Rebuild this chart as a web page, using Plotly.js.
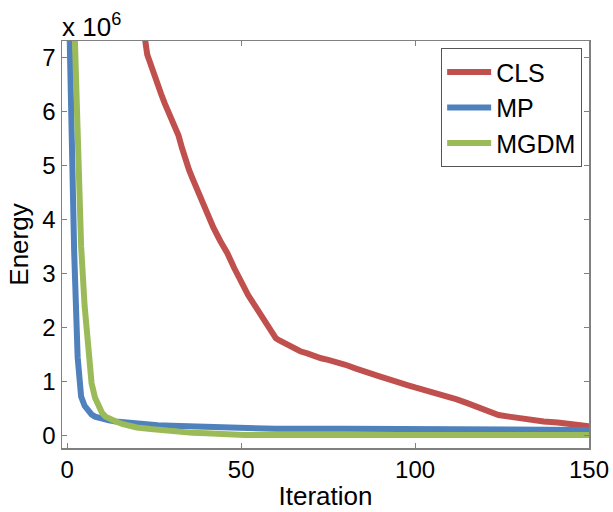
<!DOCTYPE html>
<html>
<head>
<meta charset="utf-8">
<script src="https://cdn.plot.ly/plotly-3.0.1.min.js"></script>
<style>html,body{margin:0;padding:0;background:#fff;}#chart{width:613px;height:512px;}</style>
</head>
<body>
<div id="chart"></div>
<script>
// Energy in units of 10^6
const clsIter = [0,5,10,15,20,22,23,24,25,26,27,28,29,30,31,32,33,34,35,36,37,38,39,40,42,44,46,48,50,52,54,56,58,60,61,63,65,67,69,71,73,75,78,80,83,85,88,90,93,95,98,100,103,106,109,112,115,117,120,122,124,127,130,134,137,141,145,150];
const clsEnergy = [14,12.2,10.5,9.1,7.9,7.5,7.05,6.85,6.7,6.5,6.32,6.15,6.0,5.83,5.7,5.55,5.32,5.08,4.92,4.76,4.6,4.45,4.26,4.1,3.85,3.6,3.38,3.1,2.84,2.6,2.4,2.2,2.0,1.8,1.76,1.69,1.63,1.56,1.52,1.47,1.43,1.40,1.36,1.31,1.24,1.19,1.13,1.09,1.03,0.98,0.93,0.89,0.84,0.78,0.73,0.67,0.6,0.55,0.47,0.42,0.38,0.35,0.32,0.28,0.26,0.24,0.21,0.17];

const mpIter = [0,1,2,3,4,5,6,7,8,9,10,12,14,16,18,20,23,26,30,34,40,48,49,60,80,100,115,116,130,150];
const mpEnergy = [9.5,5.8,3.4,1.45,0.72,0.55,0.45,0.39,0.35,0.33,0.31,0.28,0.26,0.245,0.23,0.22,0.205,0.19,0.18,0.17,0.165,0.155,0.13,0.125,0.125,0.12,0.115,0.105,0.105,0.105];

const mgdmIter = [0,1,2,3,4,5,6,7,8,9,10,11,12,14,16,18,20,24,28,32,36,40,45,50,51,70,100,150];
const mgdmEnergy = [12,9.8,7.8,5.4,3.5,2.4,1.6,0.97,0.7,0.52,0.42,0.35,0.31,0.26,0.21,0.18,0.15,0.12,0.09,0.065,0.05,0.045,0.035,0.03,0.012,0.01,0.01,0.01];

const seriesNames = ['CLS','MP','MGDM'];
const seriesColors = ['#C0504D','#4F81BD','#9BBB59'];
const xTicks = [0,50,100,150];
const yTicks = [0,1,2,3,4,5,6,7];

const font = 'Arial, "Liberation Sans", sans-serif';
const xs = [clsIter, mpIter, mgdmIter];
const ys = [clsEnergy, mpEnergy, mgdmEnergy];
const traces = seriesNames.map((n,i)=>({
  x: xs[i], y: ys[i], name: n, type:'scatter', mode:'lines',
  line:{color: seriesColors[i], width:6}
}));

const layout = {
  width:613, height:512,
  margin:{l:62, r:24, t:41, b:64},
  paper_bgcolor:'#fff', plot_bgcolor:'#fff',
  font:{family:font, color:'#000', size:24},
  showlegend:true,
  legend:{x:0.987, y:0.982, xanchor:'right', yanchor:'top',
    bordercolor:'#555', borderwidth:1, bgcolor:'#fff', itemwidth:44,
    font:{family:font, size:25, color:'#000'}, tracegroupgap:0},
  xaxis:{range:[-1.5,150], tickvals:xTicks, ticks:'inside', ticklen:5,
    showline:true, mirror:'ticks', linecolor:'#808080', tickcolor:'#808080', linewidth:1.5,
    showgrid:false, zeroline:false, tickfont:{size:24},
    title:{text:'Iteration', font:{size:26}, standoff:4}},
  yaxis:{range:[-0.23,7.3], tickvals:yTicks, ticks:'inside', ticklen:5,
    showline:true, mirror:'ticks', linecolor:'#808080', tickcolor:'#808080', linewidth:1.5,
    showgrid:false, zeroline:false, tickfont:{size:24},
    title:{text:'Energy', font:{size:26}, standoff:6}},
  annotations:[{xref:'paper', yref:'paper', x:0, y:1, xanchor:'left', yanchor:'bottom',
    showarrow:false, text:'x 10<sup>6</sup>', font:{family:font, size:26, color:'#000'}, xshift:-2, yshift:-3}]
};
Plotly.newPlot('chart', traces, layout, {displayModeBar:false, staticPlot:true});
</script>
</body>
</html>
